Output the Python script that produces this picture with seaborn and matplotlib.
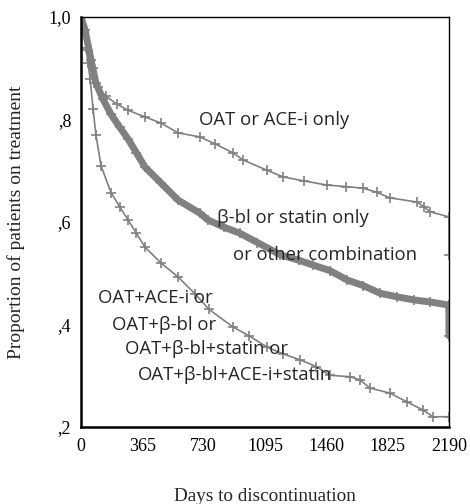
import numpy as np
import pandas as pd
import seaborn as sns
import matplotlib
matplotlib.use("Agg")
import matplotlib.pyplot as plt

# --- data (days, proportion on treatment) ---
days_a = [0, 15, 40, 70, 101, 150, 214, 280, 381, 476, 577, 708, 800, 905, 965,
          1107, 1202, 1330, 1464, 1580, 1679, 1760, 1839, 1999, 2040, 2077, 2189, 2190]
prop_a = [1.0, 0.97, 0.935, 0.90, 0.863, 0.845, 0.83, 0.818, 0.805, 0.793, 0.774,
          0.766, 0.752, 0.735, 0.721, 0.701, 0.688, 0.68, 0.672, 0.669, 0.666, 0.658,
          0.647, 0.639, 0.63, 0.62, 0.61, 0.535]

days_b = [0, 24, 60, 89, 130, 179, 230, 280, 330, 381, 476, 577, 708, 756, 850, 946,
          1050, 1185, 1300, 1381, 1482, 1583, 1679, 1780, 1881, 1980, 2077, 2189, 2190]
prop_b = [1.0, 0.975, 0.916, 0.871, 0.84, 0.81, 0.785, 0.762, 0.735, 0.707, 0.676,
          0.643, 0.617, 0.604, 0.59, 0.578, 0.56, 0.536, 0.525, 0.516, 0.505, 0.487,
          0.476, 0.461, 0.454, 0.448, 0.444, 0.438, 0.378]

days_c = [0, 12, 30, 42, 54, 72, 89, 119, 179, 230, 280, 330, 381, 476, 577, 678, 760,
          905, 1000, 1107, 1200, 1304, 1400, 1482, 1601, 1660, 1720, 1839, 1940, 2036,
          2095, 2189]
prop_c = [1.0, 0.975, 0.94, 0.91, 0.88, 0.82, 0.77, 0.71, 0.657, 0.63, 0.604, 0.578,
          0.551, 0.52, 0.493, 0.46, 0.43, 0.395, 0.378, 0.356, 0.343, 0.331, 0.318,
          0.301, 0.298, 0.292, 0.276, 0.266, 0.249, 0.233, 0.22, 0.22]

x_ticks = [0, 365, 730, 1095, 1460, 1825, 2190]
y_ticks = [0.2, 0.4, 0.6, 0.8, 1.0]
y_tick_labels = [",2", ",4", ",6", ",8", "1,0"]

labels = {
    "a": "OAT or ACE-i only",
    "b1": "β-bl or statin only",
    "b2": "or other combination",
    "c1": "OAT+ACE-i or",
    "c2": "OAT+β-bl or",
    "c3": "OAT+β-bl+statin or",
    "c4": "OAT+β-bl+ACE-i+statin",
}

# --- figure ---
sns.set_style("white")
plt.rcParams["font.family"] = ["Liberation Serif", "DejaVu Serif"]

fig = plt.figure(figsize=(4.70, 5.04), dpi=100)
ax = fig.add_axes([81 / 470, 1 - 427 / 504, (449 - 81) / 470, (427 - 17) / 504])

grey = "#808080"
df_a = pd.DataFrame({"days": days_a, "prop": prop_a})
df_b = pd.DataFrame({"days": days_b, "prop": prop_b})
df_c = pd.DataFrame({"days": days_c, "prop": prop_c})

sns.lineplot(data=df_a, x="days", y="prop", ax=ax, color=grey, lw=1.2, sort=False,
             marker="+", markersize=7, markeredgewidth=1.2, markeredgecolor=grey)
sns.lineplot(data=df_b, x="days", y="prop", ax=ax, color=grey, lw=5, sort=False,
             marker="+", markersize=7, markeredgewidth=1.2, markeredgecolor=grey)
sns.lineplot(data=df_c, x="days", y="prop", ax=ax, color=grey, lw=1.2, sort=False,
             marker="+", markersize=7, markeredgewidth=1.2, markeredgecolor=grey)

ax.set_xlim(0, 2190)
ax.set_ylim(0.2, 1.0)
ax.set_xticks(x_ticks)
ax.set_xticklabels([str(t) for t in x_ticks])
ax.set_yticks(y_ticks)
ax.set_yticklabels(y_tick_labels)
ax.tick_params(axis="both", direction="out", length=3, width=2, colors="black",
               labelsize=13, pad=4)
ax.tick_params(axis="x", pad=5)

for s in ["left", "bottom"]:
    ax.spines[s].set_linewidth(1.8)
    ax.spines[s].set_color("black")
for s in ["top", "right"]:
    ax.spines[s].set_linewidth(1.0)
    ax.spines[s].set_color("black")

ax.set_xlabel("Days to discontinuation", fontsize=13.8, labelpad=24)
ax.set_ylabel("Proportion of patients on treatment", fontsize=14, labelpad=17)

sans = ["Open Sans", "DejaVu Sans"]
fs = 13.3
ax.text(702, 0.799, labels["a"], fontsize=fs, family=sans, va="center", ha="left")
ax.text(810, 0.608, labels["b1"], fontsize=fs, family=sans, va="center", ha="left")
ax.text(905, 0.536, labels["b2"], fontsize=fs, family=sans, va="center", ha="left")
ax.text(101, 0.452, labels["c1"], fontsize=fs, family=sans, va="center", ha="left")
ax.text(185, 0.399, labels["c2"], fontsize=fs, family=sans, va="center", ha="left")
ax.text(262, 0.352, labels["c3"], fontsize=fs, family=sans, va="center", ha="left")
ax.text(339, 0.301, labels["c4"], fontsize=fs, family=sans, va="center", ha="left")

fig.savefig("out.png", dpi=100)
